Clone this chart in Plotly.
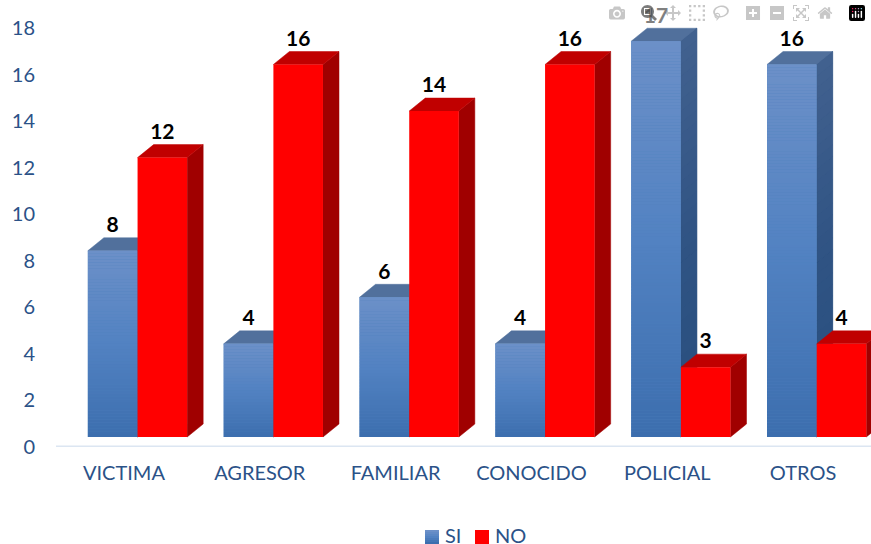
import plotly.graph_objects as go

categories = ['VICTIMA', 'AGRESOR', 'FAMILIAR', 'CONOCIDO', 'POLICIAL', 'OTROS']
si_values = [8, 4, 6, 4, 17, 16]
no_values = [12, 16, 14, 16, 3, 4]
y_ticks = [0, 2, 4, 6, 8, 10, 12, 14, 16, 18]
legend_names = ['SI', 'NO']

FONT = 'Lato'
TEXT_BLUE = '#2b5288'
IMG_WIDTH = 871
IMG_HEIGHT = 544
MARGIN_L = 56
MARGIN_B = 97

# fake 3d, everything is in axis units
BAR_WIDTH = 0.365
BASE = 0.43
DEPTH_X = 0.118
DEPTH_Y = 0.558
SI_SHIFT = -0.083
NO_SHIFT = 0.283
SLICES_PER_UNIT = 8
FRONT_STOPS = [(108, 144, 200), (82, 130, 194), (60, 110, 174)]


def mix(stops, t):
    pos = t * (len(stops) - 1)
    i = min(int(pos), len(stops) - 2)
    f = pos - i
    rgb = [round(a + (b - a) * f) for a, b in zip(stops[i], stops[i + 1])]
    return f'rgb({rgb[0]},{rgb[1]},{rgb[2]})'


def px_x(px):
    return (px - MARGIN_L) / (IMG_WIDTH - MARGIN_L)


def px_y(px):
    return (IMG_HEIGHT - MARGIN_B - px) / (IMG_HEIGHT - MARGIN_B)


def add_polygon(fig, xs, ys, color, zorder):
    fig.add_trace(go.Scatter(
        x=xs, y=ys, mode='lines', fill='toself', fillcolor=color,
        line=dict(width=0.5, color=color), showlegend=False,
        hoverinfo='skip', zorder=zorder
    ))


def add_box_faces(fig, center, value, top_color, side_color, zorder):
    left = center - BAR_WIDTH / 2
    right = center + BAR_WIDTH / 2
    top = BASE + value
    add_polygon(fig, [right, right + DEPTH_X, right + DEPTH_X, right, right],
                [BASE, BASE + DEPTH_Y, top + DEPTH_Y, top, BASE], side_color, zorder)
    add_polygon(fig, [left, left + DEPTH_X, right + DEPTH_X, right, left],
                [top, top + DEPTH_Y, top + DEPTH_Y, top, top], top_color, zorder)


def add_side_gradient(fig, center, value, stops, zorder):
    right = center + BAR_WIDTH / 2
    n = value * 2
    for k in range(n):
        y0 = BASE + value * k / n
        y1 = BASE + value * (k + 1) / n
        color = mix(stops, 1 - (k + 0.5) / n)
        add_polygon(fig, [right, right + DEPTH_X, right + DEPTH_X, right, right],
                    [y0, y0 + DEPTH_Y, y1 + DEPTH_Y, y1, y0], color, zorder)


fig = go.Figure()

si_x = [i + SI_SHIFT for i in range(len(categories))]
no_x = [i + NO_SHIFT for i in range(len(categories))]

# blue boxes first, red boxes sit in front of them
for x, v in zip(si_x, si_values):
    add_box_faces(fig, x, v, '#51709c', '#3f5f8c', 1)
    add_side_gradient(fig, x, v, [(66, 97, 143), (48, 84, 132), (40, 78, 126)], 1)

fig.add_trace(go.Bar(
    x=si_x, y=si_values, base=BASE, width=BAR_WIDTH, name='SI', showlegend=False,
    marker=dict(color='#4f81bd', line_width=0), hoverinfo='skip', zorder=2
))

# gradient on the blue front faces
grad_x, grad_y, grad_base, grad_color = [], [], [], []
for x, v in zip(si_x, si_values):
    n = v * SLICES_PER_UNIT
    for k in range(n):
        grad_x.append(x)
        grad_y.append(v / n)
        grad_base.append(BASE + v * k / n)
        grad_color.append(mix(FRONT_STOPS, 1 - (k + 0.5) / n))
fig.add_trace(go.Bar(
    x=grad_x, y=grad_y, base=grad_base, width=BAR_WIDTH, showlegend=False,
    marker=dict(color=grad_color, line_width=0), hoverinfo='skip', zorder=3
))

for x, v in zip(no_x, no_values):
    add_box_faces(fig, x, v, '#c00000', '#a00000', 4)

fig.add_trace(go.Bar(
    x=no_x, y=no_values, base=BASE, width=BAR_WIDTH, name='NO', showlegend=False,
    marker=dict(color='#ff0000', line_width=0), hoverinfo='skip', zorder=5
))

# data labels above the back edge of each box
fig.add_trace(go.Scatter(
    x=si_x + no_x,
    y=[BASE + DEPTH_Y + 0.47 + v for v in si_values + no_values],
    text=[str(v) for v in si_values + no_values],
    mode='text', textposition='middle center',
    textfont=dict(family=FONT, size=21, color='black', weight='bold'),
    showlegend=False, hoverinfo='skip', zorder=6, cliponaxis=False
))

# axis base line
fig.add_shape(type='line', xref='paper', yref='y', x0=0, x1=1, y0=0, y1=0,
              line=dict(color='#dce6f2', width=3), layer='above')

# legend by hand, plotly keeps too wide a gap between swatch and text
for k in range(7):
    fig.add_shape(type='rect', xref='paper', yref='paper',
                  x0=px_x(425), x1=px_x(439), y0=px_y(530 + 2 * k), y1=px_y(532 + 2 * k),
                  fillcolor=mix(FRONT_STOPS, k / 6), line_width=0)
fig.add_shape(type='rect', xref='paper', yref='paper',
              x0=px_x(475), x1=px_x(489), y0=px_y(530), y1=px_y(544),
              fillcolor='#ff0000', line_width=0)
for name, px_center in zip(legend_names, [453, 510]):
    fig.add_annotation(xref='paper', yref='paper', x=px_x(px_center), y=px_y(535), text=name,
                       showarrow=False, xanchor='center', yanchor='middle',
                       font=dict(family=FONT, size=20, color=TEXT_BLUE))

fig.update_layout(
    width=IMG_WIDTH,
    height=IMG_HEIGHT,
    margin=dict(l=MARGIN_L, r=0, t=0, b=MARGIN_B),
    paper_bgcolor='white',
    plot_bgcolor='white',
    barmode='overlay',
    showlegend=False,
    font=dict(family=FONT, size=20, color=TEXT_BLUE)
)
fig.update_xaxes(
    range=[-0.5, 5.5],
    tickmode='array',
    tickvals=list(range(len(categories))),
    ticktext=categories,
    ticks='',
    ticklabelstandoff=12,
    showgrid=False,
    zeroline=False,
    showline=False
)
fig.update_yaxes(
    range=[0, 19.2],
    tickmode='array',
    tickvals=y_ticks,
    ticks='',
    ticklabelstandoff=20,
    showgrid=False,
    zeroline=False,
    showline=False
)

# the page body margin would push the figure off the window
fig.write_html('out.html', post_script="document.body.style.margin='0';")
